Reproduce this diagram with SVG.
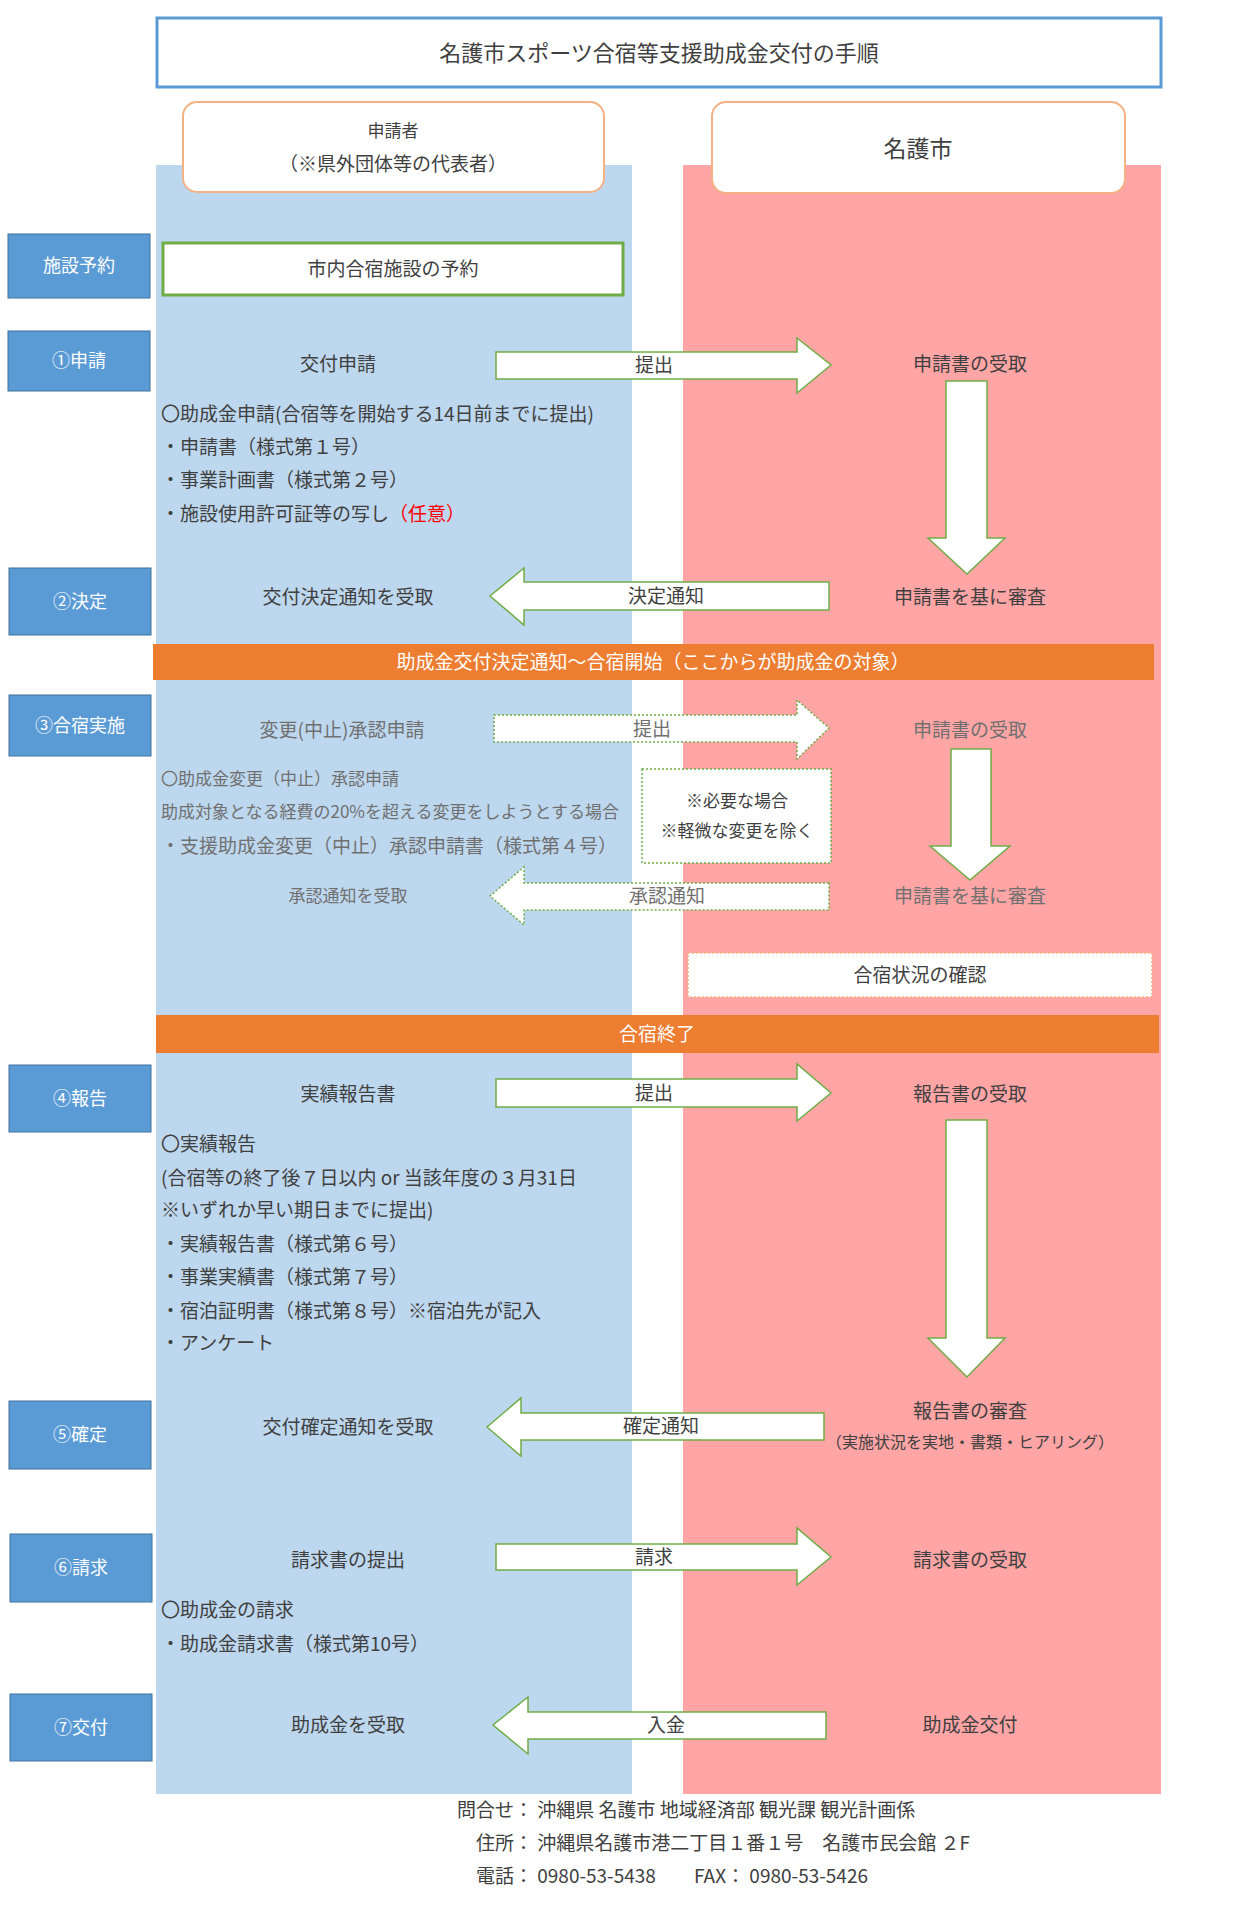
<svg xmlns="http://www.w3.org/2000/svg" width="1237" height="1920" viewBox="0 0 1237 1920">
<style>
text{font-family:"Noto Sans CJK JP","Noto Sans CJK SC",sans-serif;fill:#404040;font-size:19px}
.c{text-anchor:middle}
.s{font-size:17px}
.g{fill:#707070}
.lab rect{fill:#5B9BD5;stroke:#41719C;stroke-width:1}
.lab text{fill:#fff;text-anchor:middle;font-size:18px}
.arr{fill:#fff;stroke:#70AD47;stroke-width:1.5}
.dot{fill:#fff;stroke:#70AD47;stroke-width:1.5;stroke-dasharray:2 2}
.bar{fill:#ED7D31}
</style>
<rect x="0" y="0" width="1237" height="1920" fill="#fff"/>
<rect x="156" y="165" width="476" height="1629" fill="#BDD7EE"/>
<rect x="683" y="165" width="478" height="1629" fill="#FFA5A5"/>
<g id="title"><rect x="157" y="18" width="1004" height="69" fill="#fff" stroke="#5B9BD5" stroke-width="3"/><text class="c" x="659" y="61" style="font-size:22px">名護市スポーツ合宿等支援助成金交付の手順</text></g>
<g id="hdr1"><rect x="183" y="102" width="421" height="90" rx="14" fill="#fff" stroke="#F4B183" stroke-width="2"/><text class="c s" x="393" y="137">申請者</text><text class="c" x="393" y="171">（※県外団体等の代表者）</text></g>
<g id="hdr2"><rect x="712" y="102" width="413" height="91" rx="14" fill="#fff" stroke="#F4B183" stroke-width="2"/><text class="c" x="918" y="157" style="font-size:23px">名護市</text></g>
<g class="lab">
<g id="l0"><rect x="8" y="234" width="142" height="64"/><text x="79" y="272">施設予約</text></g>
<g id="l1"><rect x="8" y="331" width="142" height="60"/><text x="79" y="367">①申請</text></g>
<g id="l2"><rect x="9" y="568" width="142" height="67"/><text x="80" y="608">②決定</text></g>
<g id="l3"><rect x="9" y="695" width="142" height="61"/><text x="80" y="732">③合宿実施</text></g>
<g id="l4"><rect x="9" y="1065" width="142" height="67"/><text x="80" y="1105">④報告</text></g>
<g id="l5"><rect x="9" y="1401" width="142" height="68"/><text x="80" y="1441">⑤確定</text></g>
<g id="l6"><rect x="10" y="1534" width="142" height="68"/><text x="81" y="1574">⑥請求</text></g>
<g id="l7"><rect x="10" y="1694" width="142" height="67"/><text x="81" y="1734">⑦交付</text></g>
</g>
<g id="book"><rect x="163" y="243" width="460" height="52" fill="#fff" stroke="#70AD47" stroke-width="3"/><text class="c" x="393" y="276">市内合宿施設の予約</text></g>
<g id="connectors">
<path class="arr" d="M496 352H797V338L831 365L797 393V379H496Z"/>
<path class="arr" d="M946 381H987V538H1005L967 574L928 538H946Z"/>
<path class="arr" d="M829 582H524V568L490 596L524 625V610H829Z"/>
<path class="dot" d="M494 715H797V700L829 728L797 759V742H494Z"/>
<path class="arr" d="M951 749H991V846H1010L970 880L930 846H951Z"/>
<path class="dot" d="M829 883H524V867L490 896L524 925V910H829Z"/>
<path class="arr" d="M496 1079H797V1064L831 1093L797 1121V1107H496Z"/>
<path class="arr" d="M946 1120H987V1338H1005L967 1377L928 1338H946Z"/>
<path class="arr" d="M824 1413H521V1398L487 1427L521 1456V1440H824Z"/>
<path class="arr" d="M496 1544H797V1528L831 1557L797 1585V1570H496Z"/>
<path class="arr" d="M826 1712H528V1697L493 1725L528 1754V1739H826Z"/>
</g>
<g id="arrlabels">
<text class="c" x="654" y="372">提出</text>
<text class="c" x="666" y="603">決定通知</text>
<text class="c g" x="652" y="736">提出</text>
<text class="c g" x="667" y="903">承認通知</text>
<text class="c" x="654" y="1100">提出</text>
<text class="c" x="661" y="1433">確定通知</text>
<text class="c" x="654" y="1564">請求</text>
<text class="c" x="666" y="1732">入金</text>
</g>
<g id="s1"><text class="c" x="338" y="371">交付申請</text><text class="c" x="970" y="371">申請書の受取</text>
<text x="161" y="421">〇助成金申請(合宿等を開始する14日前までに提出)</text>
<text x="161" y="454">・申請書（様式第１号）</text>
<text x="161" y="487">・事業計画書（様式第２号）</text>
<text x="161" y="521">・施設使用許可証等の写し<tspan fill="#FF0000">（任意）</tspan></text></g>
<g id="s2"><text class="c" x="348" y="604">交付決定通知を受取</text><text class="c" x="970" y="604">申請書を基に審査</text></g>
<g id="bar1"><rect class="bar" x="153" y="644" width="1001" height="36"/><text class="c" x="653" y="669" style="fill:#fff">助成金交付決定通知～合宿開始（ここからが助成金の対象）</text></g>
<g id="s3"><text class="c g" x="342" y="737">変更(中止)承認申請</text><text class="c g" x="970" y="737">申請書の受取</text>
<text class="s g" x="161" y="785">〇助成金変更（中止）承認申請</text>
<text class="s g" x="161" y="818">助成対象となる経費の20%を超える変更をしようとする場合</text>
<text class="g" x="161" y="853">・支援助成金変更（中止）承認申請書（様式第４号）</text>
<text class="c g s" x="348" y="902">承認通知を受取</text><text class="c g" x="970" y="903">申請書を基に審査</text></g>
<g id="note"><rect class="dot" x="642" y="769" width="189" height="94"/><text class="c s" x="737" y="807">※必要な場合</text><text class="c s" x="737" y="837">※軽微な変更を除く</text></g>
<g id="check"><rect x="688" y="953" width="464" height="44" fill="#fff" stroke="#F4B183" stroke-width="1.5" stroke-dasharray="2 2"/><text class="c" x="920" y="982">合宿状況の確認</text></g>
<g id="bar2"><rect class="bar" x="156" y="1015" width="1003" height="38"/><text class="c" x="657" y="1041" style="fill:#fff">合宿終了</text></g>
<g id="s4"><text class="c" x="348" y="1101">実績報告書</text><text class="c" x="970" y="1101">報告書の受取</text>
<text x="161" y="1151">〇実績報告</text>
<text x="161" y="1185">(合宿等の終了後７日以内 or 当該年度の３月31日</text>
<text x="161" y="1217">※いずれか早い期日までに提出)</text>
<text x="161" y="1251">・実績報告書（様式第６号）</text>
<text x="161" y="1284">・事業実績書（様式第７号）</text>
<text x="161" y="1318">・宿泊証明書（様式第８号）※宿泊先が記入</text>
<text x="161" y="1350">・アンケート</text></g>
<g id="s5"><text class="c" x="348" y="1434">交付確定通知を受取</text><text class="c" x="970" y="1418">報告書の審査</text><text class="c" x="970" y="1448" style="font-size:16px">（実施状況を実地・書類・ヒアリング）</text></g>
<g id="s6"><text class="c" x="348" y="1567">請求書の提出</text><text class="c" x="970" y="1567">請求書の受取</text>
<text x="161" y="1617">〇助成金の請求</text><text x="161" y="1651">・助成金請求書（様式第10号）</text></g>
<g id="s7"><text class="c" x="348" y="1732">助成金を受取</text><text class="c" x="970" y="1732">助成金交付</text></g>
<g id="footer">
<text x="457" y="1817">問合せ： 沖縄県 名護市 地域経済部 観光課 観光計画係</text>
<text x="476" y="1850">住所： 沖縄県名護市港二丁目１番１号　名護市民会館 ２F</text>
<text x="476" y="1883">電話： 0980-53-5438　　FAX： 0980-53-5426</text>
</g>
</svg>
